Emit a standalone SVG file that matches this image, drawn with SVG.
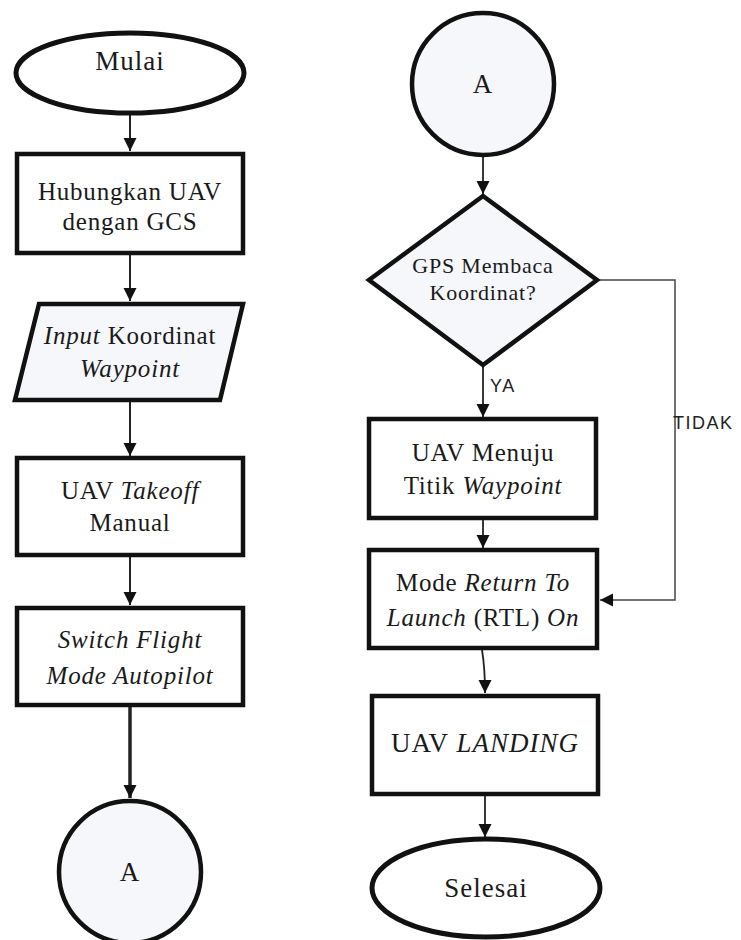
<svg xmlns="http://www.w3.org/2000/svg" width="741" height="940" viewBox="0 0 741 940">
<defs>
<style>
.box{fill:#ffffff;stroke:#111;stroke-width:4.5}
.soft{fill:#f6f7fb;stroke:#111;stroke-width:4.5}
.t{font-family:"Liberation Serif","Times New Roman",serif;font-size:25px;fill:#1a1a1a;text-anchor:middle;letter-spacing:0.8px}
.big{font-size:27px;letter-spacing:1px}
.dia{font-size:22px;letter-spacing:0.8px}
.lbl{font-family:"Liberation Sans",Arial,sans-serif;font-size:18px;fill:#222;letter-spacing:1.5px}
.c{fill:none;stroke:#222;stroke-width:2}
.thin{fill:none;stroke:#444;stroke-width:1.5}
</style>
<marker id="ah" markerUnits="userSpaceOnUse" markerWidth="13" markerHeight="14" refX="13" refY="6.5" orient="auto">
<path d="M0,0 L13,6.5 L0,13 z" fill="#111"/>
</marker>
</defs>
<rect width="741" height="940" fill="#ffffff"/>

<g id="connectors">
<line class="c" x1="130" y1="115" x2="130" y2="151" marker-end="url(#ah)"/>
<line class="c" x1="130" y1="255" x2="130" y2="301" marker-end="url(#ah)"/>
<line class="c" x1="130" y1="402" x2="130" y2="456" marker-end="url(#ah)"/>
<line class="c" x1="130" y1="556" x2="130" y2="605" marker-end="url(#ah)"/>
<line class="c" style="stroke-width:3.5" x1="130" y1="707" x2="130" y2="798" marker-end="url(#ah)"/>
<line class="c" style="stroke-width:1.8" x1="483" y1="156" x2="483" y2="194" marker-end="url(#ah)"/>
<line class="c" style="stroke-width:1.8" x1="483" y1="366" x2="483" y2="417" marker-end="url(#ah)"/>
<line class="c" style="stroke-width:1.8" x1="483" y1="520" x2="483" y2="548" marker-end="url(#ah)"/>
<path class="c" style="stroke-width:1.8" d="M482,650 Q485,668 485,693" marker-end="url(#ah)"/>
<line class="c" style="stroke-width:1.8" x1="485" y1="796" x2="485" y2="837" marker-end="url(#ah)"/>
<path class="thin" d="M599,280 L675,280 L675,600 L600,600" marker-end="url(#ah)"/>
<text class="lbl" x="490" y="392">YA</text>
<text class="lbl" x="673" y="429">TIDAK</text>
</g>

<g id="mulai">
<ellipse class="box" style="stroke-width:5" cx="130" cy="73" rx="114" ry="40"/>
<text class="t big" x="130" y="70">Mulai</text>
</g>

<g id="hubungkan">
<rect class="box" x="17" y="154" width="226" height="99"/>
<text class="t" x="130" y="200">Hubungkan UAV</text>
<text class="t" x="130" y="230">dengan GCS</text>
</g>

<g id="input">
<polygon class="soft" points="39,304 243,304 220,400 15,400"/>
<text class="t" x="130" y="344"><tspan font-style="italic">Input</tspan> Koordinat</text>
<text class="t" x="130" y="377" font-style="italic">Waypoint</text>
</g>

<g id="takeoff">
<rect class="box" x="17" y="458" width="226" height="97"/>
<text class="t" x="130" y="499">UAV <tspan font-style="italic">Takeoff</tspan></text>
<text class="t" x="130" y="531">Manual</text>
</g>

<g id="switch">
<rect class="box" x="17" y="608" width="226" height="97"/>
<text class="t" x="130" y="648" font-style="italic">Switch Flight</text>
<text class="t" x="130" y="684" font-style="italic">Mode Autopilot</text>
</g>

<g id="connector-a-left">
<circle class="soft" cx="130" cy="872" r="71"/>
<text class="t big" x="130" y="881">A</text>
</g>

<g id="connector-a-right">
<circle class="soft" cx="483" cy="84" r="71"/>
<text class="t big" x="483" y="93">A</text>
</g>

<g id="gps">
<polygon class="soft" points="483,196 597,280 483,365 369,280"/>
<text class="t dia" x="483" y="273">GPS Membaca</text>
<text class="t dia" x="483" y="300">Koordinat?</text>
</g>

<g id="menuju">
<rect class="box" x="369" y="419" width="227" height="99"/>
<text class="t" x="483" y="461">UAV Menuju</text>
<text class="t" x="483" y="494">Titik <tspan font-style="italic">Waypoint</tspan></text>
</g>

<g id="rtl">
<rect class="box" x="369" y="550" width="228" height="98"/>
<text class="t" x="483" y="591">Mode <tspan font-style="italic">Return To</tspan></text>
<text class="t" x="483" y="626"><tspan font-style="italic">Launch</tspan> (RTL) <tspan font-style="italic">On</tspan></text>
</g>

<g id="landing">
<rect class="box" x="372" y="696" width="226" height="98"/>
<text class="t big" x="485" y="752">UAV <tspan font-style="italic">LANDING</tspan></text>
</g>

<g id="selesai">
<ellipse class="box" style="stroke-width:5" cx="486" cy="888" rx="114" ry="49"/>
<text class="t big" x="486" y="897">Selesai</text>
</g>
</svg>
